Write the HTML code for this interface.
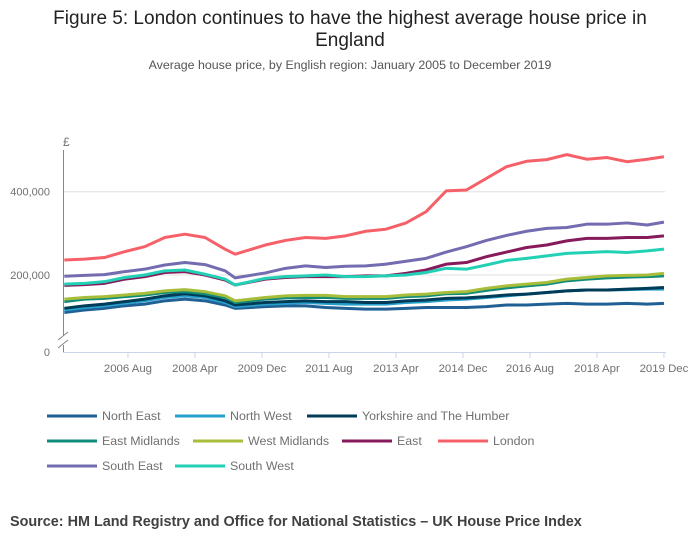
<!DOCTYPE html>
<html><head><meta charset="utf-8"><style>
body{margin:0;background:#fff;width:700px;height:549px;overflow:hidden;font-family:"Liberation Sans",sans-serif}
</style></head><body>
<svg width="700" height="549" id="chart" font-family="Liberation Sans, sans-serif">
<text x="350" y="24" text-anchor="middle" font-size="19" fill="#222">Figure 5: London continues to have the highest average house price in</text>
<text x="350" y="46" text-anchor="middle" font-size="19" fill="#222">England</text>
<text x="350" y="69" text-anchor="middle" font-size="12.4" fill="#555">Average house price, by English region: January 2005 to December 2019</text>
<text x="10" y="526" font-size="14.4" font-weight="bold" fill="#414042">Source: HM Land Registry and Office for National Statistics – UK House Price Index</text>
<g id="plot"></g>
<g id="legend"></g>
</svg>
<script>
const months=[0,6,12,18,24,30,36,42,48,51,60,66,72,78,84,90,96,102,108,114,120,126,132,138,144,150,156,162,168,174,179];
const northEast=[110,116,120,126,130,138,142,138,128,120,124,126,126,122,120,118,118,120,122,122,122,124,128,128,130,132,130,130,132,130,132];
const northWest=[116,122,126,132,138,146,150,146,134,124,130,132,134,132,130,130,130,134,136,140,142,146,150,154,158,162,164,164,165,166,166];
const yorkshire=[120,126,130,136,142,150,155,150,138,128,134,136,138,136,136,134,134,138,140,144,145,148,152,154,158,162,164,164,166,168,170];
const eastMidlands=[136,142,144,148,152,158,160,155,146,134,142,145,146,146,144,144,144,148,150,155,156,163,169,174,178,186,190,193,195,196,198];
const westMidlands=[142,146,148,152,156,162,165,160,150,138,146,150,151,151,148,148,148,152,154,158,160,168,174,178,182,190,194,198,199,200,204];
const east=[175,177,180,190,196,206,208,200,188,176,190,194,196,196,196,198,198,204,212,226,230,244,255,266,272,282,288,288,290,290,294];
const london=[236,238,242,256,268,290,298,290,262,250,272,283,290,288,294,305,310,325,352,402,404,432,460,473,477,489,478,482,472,478,484];
const southEast=[197,199,201,208,214,224,230,225,210,193,205,216,222,218,221,222,226,233,240,255,268,283,295,305,312,314,322,322,325,320,327];
const southWest=[178,180,184,194,200,210,212,202,190,176,192,196,198,200,196,196,198,200,206,216,214,224,235,240,246,252,254,256,254,258,262];
const seriesNames=["North East","North West","Yorkshire and The Humber","East Midlands","West Midlands","East","London","South East","South West"];
const seriesData=[northEast,northWest,yorkshire,eastMidlands,westMidlands,east,london,southEast,southWest];
const colors=["#206095","#27a0cc","#003c57","#118c7b","#a8bd3a","#871a5b","#f66068","#746cb1","#22d0b6"];
const yTicks=[0,200000,400000];
const yTickLabels=["0","200,000","400,000"];
const xTickMonths=[19,39,59,79,99,119,139,159,179];
const xTickLabels=["2006 Aug","2008 Apr","2009 Dec","2011 Aug","2013 Apr","2014 Dec","2016 Aug","2018 Apr","2019 Dec"];

const NS="http://www.w3.org/2000/svg";
const x=m=>64.3+m*3.35;
const y=v=>v===0?352:275-(v-200000)*83.3/200000;
const plot=document.getElementById('plot');
function mk(tag,attrs,parent){const e=document.createElementNS(NS,tag);for(const k in attrs)e.setAttribute(k,attrs[k]);parent.appendChild(e);return e;}
yTicks.forEach((v,i)=>{
  if(v>0){const g=mk('line',{x1:64,x2:665,y1:y(v),y2:y(v),stroke:'#e0e0e0','stroke-width':1},plot);
  
  }
  const t=mk('text',{x:50,y:y(v)+4,'text-anchor':'end','font-size':11,fill:'#707070'},plot);
  t.textContent=yTickLabels[i];
  
  
});
const pound=mk('text',{x:63,y:146,'font-size':12,fill:'#707070'},plot);pound.textContent='£';


const yax=mk('path',{d:'M63.5 150 V336 M63.5 345 V352',stroke:'#888',fill:'none'},plot);


const brk=mk('path',{d:'M58 340 L68 332 M58 348 L68 340',stroke:'#888',fill:'none'},plot);


const xax=mk('line',{x1:63,x2:666,y1:352.5,y2:352.5,stroke:'#c8d4e8'},plot);


xTickMonths.forEach((m,i)=>{
  const tk=mk('line',{x1:x(m),x2:x(m),y1:352,y2:358,stroke:'#c8d4e8'},plot);
  
  
  const t=mk('text',{x:x(m),y:372,'text-anchor':'middle','font-size':11.4,fill:'#707070'},plot);
  t.textContent=xTickLabels[i];
  
  
});
seriesData.forEach((d,i)=>{
  const p=mk('polyline',{points:d.map((v,j)=>x(months[j])+','+y(v*1000)).join(' '),fill:'none',stroke:colors[i],'stroke-width':3,'stroke-linejoin':'round'},plot);
  
  
});
const legPos=[[47,416],[175,416],[307,416],[47,441],[193,441],[342,441],[438,441],[47,466],[175,466]];
const leg=document.getElementById('legend');
seriesNames.forEach((n,i)=>{
  const [lx,ly]=legPos[i];
  const g=mk('g',{},leg);
  
  
  mk('line',{x1:lx,x2:lx+50,y1:ly,y2:ly,stroke:colors[i],'stroke-width':3},g);
  const t=mk('text',{x:lx+55,y:ly+4,'font-size':12.4,fill:'#707070'},g);t.textContent=n;
});
</script>
</body></html>
